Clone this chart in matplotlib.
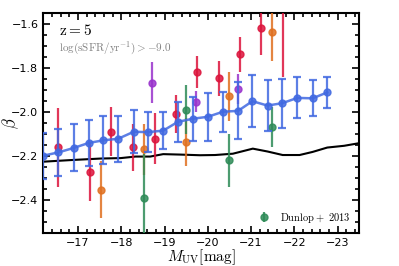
import matplotlib
matplotlib.use("Agg")
import matplotlib.pyplot as plt
from matplotlib.ticker import MultipleLocator

plt.rcParams['mathtext.fontset'] = 'cm'
plt.rcParams['font.family'] = ['DejaVu Sans']

# Model (binned) series
model_x = [-16.20, -16.55, -16.90, -17.25, -17.59, -17.93, -18.29, -18.61, -18.97, -19.31,
           -19.65, -20.00, -20.35, -20.70, -21.03, -21.38, -21.72, -22.07, -22.42, -22.76]
model_y = [-2.198, -2.183, -2.163, -2.140, -2.128, -2.121, -2.089, -2.091, -2.084, -2.044,
           -2.030, -2.021, -1.998, -1.994, -1.950, -1.970, -1.959, -1.935, -1.937, -1.910]
model_err = [0.105, 0.107, 0.107, 0.103, 0.110, 0.105, 0.097, 0.092, 0.084, 0.090,
             0.100, 0.110, 0.090, 0.130, 0.117, 0.116, 0.111, 0.093, 0.082, 0.072]

# Black reference line
line_x = [-16.23, -16.84, -17.53, -17.99, -18.33, -18.67, -18.97, -19.36, -19.82, -20.17,
          -20.58, -21.04, -21.38, -21.73, -22.12, -22.42, -22.76, -23.15, -23.47]
line_y = [-2.225, -2.218, -2.211, -2.209, -2.202, -2.202, -2.191, -2.193, -2.196, -2.195,
          -2.189, -2.166, -2.179, -2.195, -2.195, -2.181, -2.161, -2.153, -2.142]

# Observational points
red_x = [-16.53, -17.28, -17.77, -18.27, -18.77, -19.26, -19.75, -20.25, -20.74, -21.24, -21.73]
red_y = [-2.160, -2.271, -2.088, -2.159, -2.120, -2.007, -1.816, -1.846, -1.737, -1.615, -1.48]
red_err = [0.180, 0.133, 0.112, 0.107, 0.117, 0.087, 0.072, 0.079, 0.078, 0.127, 0.36]

orange_x = [-17.53, -18.52, -19.50, -20.49, -21.49]
orange_y = [-2.352, -2.169, -2.137, -1.927, -1.635]
orange_err = [0.128, 0.116, 0.110, 0.112, 0.130]

purple_x = [-18.70, -19.72, -20.70]
purple_y = [-1.866, -1.953, -1.896]
purple_err = [0.093, 0.048, 0.068]

green_x = [-18.52, -19.50, -20.49, -21.49]
green_y = [-2.389, -1.988, -2.219, -2.068]
green_err = [0.200, 0.110, 0.120, 0.090]

fig = plt.figure(figsize=(3.99, 2.66), dpi=100)
ax = fig.add_axes([0.1085, 0.124, 0.792, 0.826])

ax.plot(line_x, line_y, color='black', lw=1.5, zorder=2)

ax.errorbar(red_x, red_y, yerr=red_err, fmt='o', color='crimson', ms=5, elinewidth=1.6,
            alpha=0.85, zorder=3)
ax.errorbar(orange_x, orange_y, yerr=orange_err, fmt='o', color='#e07020', ms=5, elinewidth=1.6,
            alpha=0.85, zorder=3)
ax.errorbar(purple_x, purple_y, yerr=purple_err, fmt='o', color='darkorchid', ms=5, elinewidth=1.6,
            alpha=0.85, zorder=3)
ax.errorbar(green_x, green_y, yerr=green_err, fmt='o', color='seagreen', ms=5, elinewidth=1.6,
            alpha=0.85, zorder=3, label=r'$\mathrm{Dunlop+\ 2013}$')

ax.errorbar(model_x, model_y, yerr=model_err, fmt='-o', color='royalblue', ms=5, lw=1.8,
            elinewidth=1.6, capsize=3, capthick=1.6, alpha=0.85, zorder=4)

ax.set_xlim(-16.2, -23.5)
ax.set_ylim(-2.55, -1.55)

ax.xaxis.set_major_locator(MultipleLocator(1))
ax.xaxis.set_minor_locator(MultipleLocator(0.2))
ax.yaxis.set_major_locator(MultipleLocator(0.2))
ax.yaxis.set_minor_locator(MultipleLocator(0.05))
ax.tick_params(which='both', direction='in', top=True, right=True, labelsize=8, width=1.2)
ax.tick_params(which='major', length=5)
ax.tick_params(which='minor', length=3)
for s in ax.spines.values():
    s.set_linewidth(1.5)

ax.set_xlabel(r'$M_{\rm UV}[\rm mag]$', fontsize=11)
ax.xaxis.set_label_coords(0.5, -0.064)
ax.set_ylabel(r'$\beta$', fontsize=12)
ax.yaxis.set_label_coords(-0.072, 0.5)

ax.text(0.05, 0.92, r'$\rm z=5$', transform=ax.transAxes, fontsize=11, va='center', ha='left')
ax.text(0.05, 0.84, r'$\log(\mathrm{sSFR/yr^{-1}})>-9.0$', transform=ax.transAxes,
        fontsize=8, va='center', ha='left', color='gray')

ax.legend(loc='lower right', frameon=False, fontsize=7.5, handletextpad=0.8,
          borderaxespad=0.4, handlelength=1.5)

fig.savefig('out.png', dpi=100)
